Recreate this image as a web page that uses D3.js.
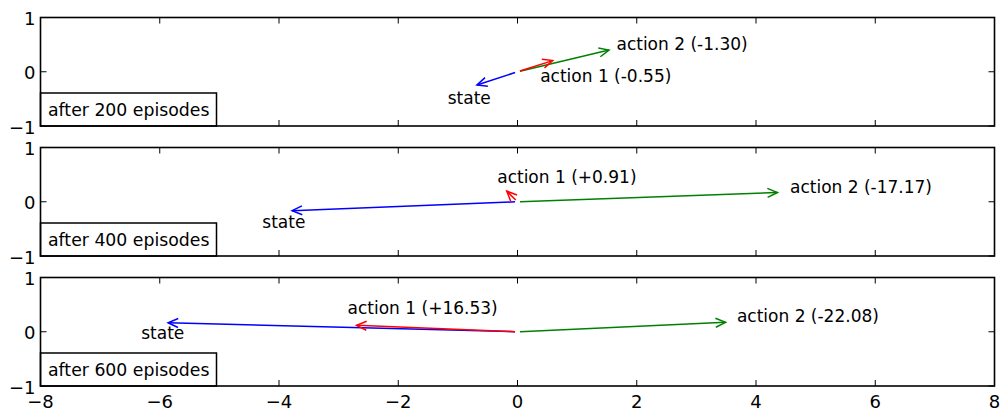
<!DOCTYPE html>
<html>
<head>
<meta charset="utf-8">
<script src="https://cdn.jsdelivr.net/npm/d3@7"></script>
<style>
  html, body { margin: 0; padding: 0; background: #fff; }
  svg { display: block; }
  text { font-family: "DejaVu Sans", sans-serif; fill: #000; }
</style>
</head>
<body>
<svg id="chart" width="1000" height="411"></svg>
<script>
// ---- data ----
const panels = ["after 200 episodes", "after 400 episodes", "after 600 episodes"];
const vectorNames = ["state", "action 1", "action 2"];
const vectorColors = ["#0000ff", "#ff0000", "#008000"];
// tips of vectors (x, y) per panel, order: state, action 1, action 2
const tipX = [
  [-0.68, 0.59, 1.535],
  [-3.78, -0.18, 4.36],
  [-5.86, -2.70, 3.49]
];
const tipY = [
  [-0.245, 0.205, 0.40],
  [-0.165, 0.196, 0.17],
  [0.166, 0.118, 0.174]
];
// label texts and anchors (data coords, left / middle)
const labelText = [
  ["state", "action 1 (-0.55)", "action 2 (-1.30)"],
  ["state", "action 1 (+0.91)", "action 2 (-17.17)"],
  ["state", "action 1 (+16.53)", "action 2 (-22.08)"]
];
const labelX = [
  [-1.17, 0.38, 1.66],
  [-4.28, -0.34, 4.57],
  [-6.31, -2.85, 3.68]
];
const labelY = [
  [-0.48, -0.07, 0.51],
  [-0.38, 0.46, 0.28],
  [-0.03, 0.43, 0.29]
];
const xTicks = [-8, -6, -4, -2, 0, 2, 4, 6, 8];
const yTicks = [-1, 0, 1];

// ---- layout ----
const svg = d3.select("#chart");
const left = 40.5, right = 994.5;
const tops = [17.5, 147.5, 277.5];
const ph = 108.5;
const x = d3.scaleLinear().domain([-8, 8]).range([left, right]);
const fmt = v => (v < 0 ? "\u2212" + Math.abs(v) : String(v));
const tickLen = 6;

function arrow(g, x0, y0, x1, y1, color) {
  const dx = x1 - x0, dy = y1 - y0;
  const L = Math.hypot(dx, dy);
  const ux = dx / L, uy = dy / L;
  const shrink = 2.5;
  const sx = x0 + ux * shrink, sy = y0 + uy * shrink;
  g.append("line")
    .attr("x1", sx).attr("y1", sy).attr("x2", x1).attr("y2", y1)
    .attr("stroke", color).attr("stroke-width", 1.5);
  const hl = 10, hw = 4.5;
  const bx = x1 - ux * hl, by = y1 - uy * hl;
  const px = -uy, py = ux;
  g.append("path")
    .attr("d", `M${bx + px * hw},${by + py * hw}L${x1},${y1}L${bx - px * hw},${by - py * hw}`)
    .attr("fill", "none").attr("stroke", color).attr("stroke-width", 1.5)
    .attr("stroke-linejoin", "miter");
}

panels.forEach((title, pi) => {
  const top = tops[pi];
  const y = d3.scaleLinear().domain([-1, 1]).range([top + ph, top]);
  const g = svg.append("g");

  // ticks (inward, all sides)
  const tg = g.append("g").attr("stroke", "#000").attr("stroke-width", 1);
  xTicks.forEach(t => {
    tg.append("line").attr("x1", x(t)).attr("x2", x(t)).attr("y1", top).attr("y2", top + tickLen);
    tg.append("line").attr("x1", x(t)).attr("x2", x(t)).attr("y1", top + ph).attr("y2", top + ph - tickLen);
  });
  yTicks.forEach(t => {
    tg.append("line").attr("x1", left).attr("x2", left + tickLen).attr("y1", y(t)).attr("y2", y(t));
    tg.append("line").attr("x1", right).attr("x2", right - tickLen).attr("y1", y(t)).attr("y2", y(t));
    g.append("text").attr("x", left - 5).attr("y", y(t) + 1)
      .attr("text-anchor", "end").attr("dominant-baseline", "central")
      .attr("font-size", 18).text(fmt(t));
  });

  // arrows: state, action 2, action 1 (red on top)
  const order = [0, 2, 1];
  order.forEach(k => {
    arrow(g, x(0), y(0), x(tipX[pi][k]), y(tipY[pi][k]), vectorColors[k]);
  });

  // labels
  labelText[pi].forEach((txt, k) => {
    g.append("text").attr("x", x(labelX[pi][k])).attr("y", y(labelY[pi][k]))
      .attr("dominant-baseline", "central").attr("font-size", 17).text(txt);
  });

  // title box
  const bw = 176, bh = 33;
  g.append("rect").attr("x", left).attr("y", top + ph - bh).attr("width", bw).attr("height", bh)
    .attr("fill", "#fff").attr("stroke", "#000").attr("stroke-width", 1.5);
  g.append("text").attr("x", left + 7.5).attr("y", top + ph - bh / 2 + 0.5)
    .attr("dominant-baseline", "central").attr("font-size", 17.3).text(title);

  // frame
  g.append("rect").attr("x", left).attr("y", top).attr("width", right - left).attr("height", ph)
    .attr("fill", "none").attr("stroke", "#000").attr("stroke-width", 1.6);
});

// x tick labels on bottom panel
const last = tops[2] + ph;
xTicks.forEach(t => {
  svg.append("text").attr("x", x(t)).attr("y", last + 15)
    .attr("text-anchor", "middle").attr("dominant-baseline", "central")
    .attr("font-size", 18).text(fmt(t));
});
</script>
</body>
</html>
